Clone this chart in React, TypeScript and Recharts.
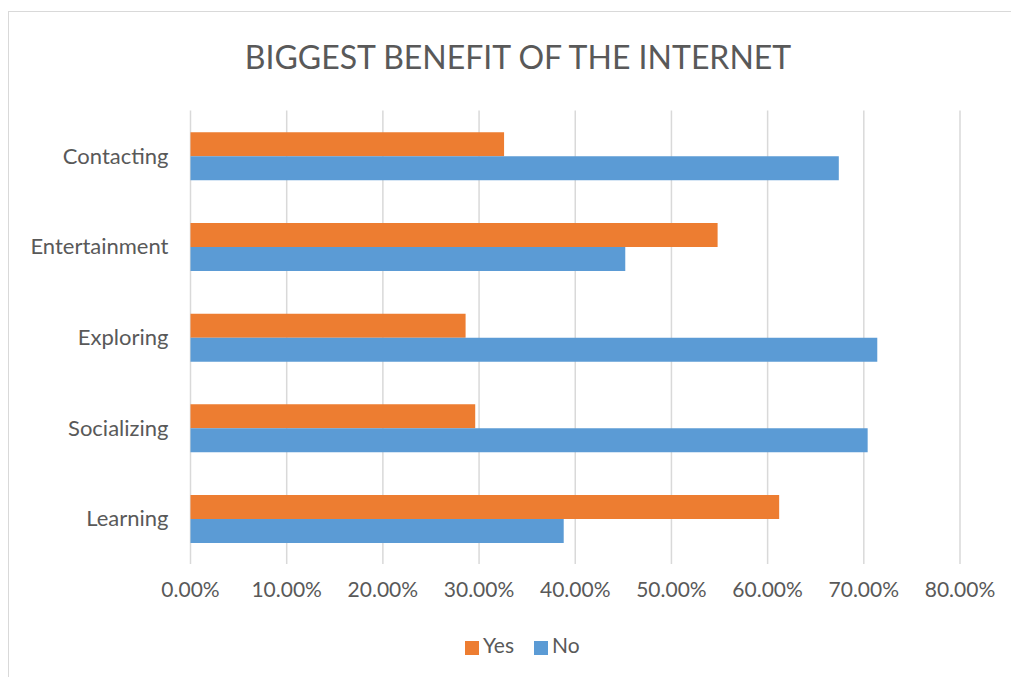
import { BarChart, Bar, XAxis, YAxis, CartesianGrid, Legend } from 'recharts';

const categories = ['Contacting', 'Entertainment', 'Exploring', 'Socializing', 'Learning'];
const yesValues = [32.6, 54.8, 28.6, 29.6, 61.2];
const noValues = [67.4, 45.2, 71.4, 70.4, 38.8];
const xTicks = [0, 10, 20, 30, 40, 50, 60, 70, 80];
const seriesOrder = ['Yes', 'No'];

const data = categories.map((name, i) => ({ name, Yes: yesValues[i], No: noValues[i] }));

const FONT = 'Lato, "Open Sans", sans-serif';
const TEXT = '#595959';

export default function App() {
    return (
        <div
            style={{
                position: 'relative',
                width: 1011,
                height: 700,
                marginTop: 3,
                border: '1px solid #d9d9d9',
                boxSizing: 'border-box',
                fontFamily: FONT,
                background: '#fff',
            }}
        >
            <div
                style={{
                    position: 'absolute',
                    top: 25,
                    left: 0,
                    width: '100%',
                    paddingLeft: 9,
                    boxSizing: 'border-box',
                    textAlign: 'center',
                    fontSize: 32,
                    color: TEXT,
                    lineHeight: '40px',
                }}
            >
                BIGGEST BENEFIT OF THE INTERNET
            </div>
            <BarChart
                width={1009}
                height={665}
                data={data}
                layout="vertical"
                margin={{ top: 98.5, right: 58, left: 0, bottom: 20 }}
                barCategoryGap="24%"
                barGap={0}
            >
                <CartesianGrid horizontal={false} stroke="#d9d9d9" strokeWidth={1.5} />
                <XAxis
                    type="number"
                    domain={[0, 80]}
                    ticks={xTicks}
                    tickFormatter={(v) => `${v.toFixed(2)}%`}
                    axisLine={false}
                    tickLine={false}
                    tickMargin={12}
                    height={40}
                    tick={{ fill: TEXT, fontSize: 21, fontFamily: FONT }}
                    interval={0}
                />
                <YAxis
                    type="category"
                    dataKey="name"
                    width={181.5}
                    axisLine={false}
                    tickLine={false}
                    tickMargin={16}
                    tick={{ fill: TEXT, fontSize: 22, fontFamily: FONT }}
                />
                <Legend
                    verticalAlign="bottom"
                    align="left"
                    iconType="square"
                    iconSize={14}
                    itemSorter={(item) => seriesOrder.indexOf(String(item.value))}
                    wrapperStyle={{ paddingTop: 28, fontSize: 21, fontFamily: FONT, left: 456, width: 200 }}
                    formatter={(value) => <span style={{ color: TEXT, paddingRight: 10 }}>{value}</span>}
                />
                <Bar dataKey="Yes" fill="#ED7D31" isAnimationActive={false} />
                <Bar dataKey="No" fill="#5B9BD5" isAnimationActive={false} />
            </BarChart>
        </div>
    );
}
